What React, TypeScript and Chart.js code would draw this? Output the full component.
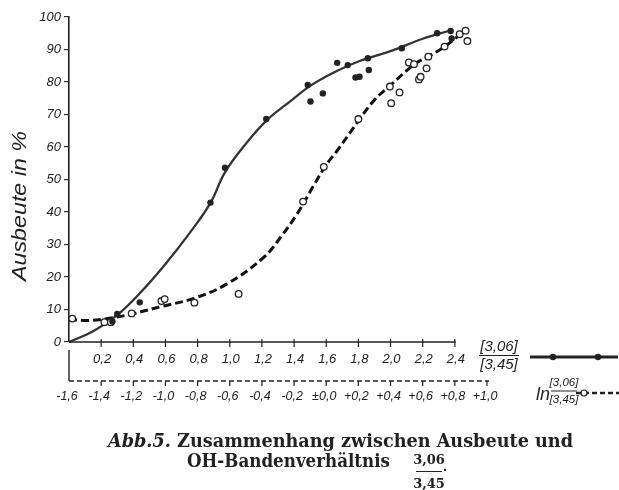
import React, { useEffect, useRef } from 'react';
import { Chart, registerables } from 'chart.js';

Chart.register(...registerables);

// ---- data (upper axis: ratio [3,06]/[3,45]; lower axis: ln of ratio) ----
const solidCurveX = [0, 0.15, 0.3, 0.45, 0.6, 0.75, 0.88, 0.97, 1.1, 1.23, 1.38, 1.5, 1.65, 1.8, 2.0, 2.2, 2.38];
const solidCurveY = [0, 3.3, 8.3, 15.5, 24, 33.5, 42.8, 52.2, 61, 68.2, 74.2, 78.8, 83, 86.3, 89.5, 93.3, 96];

const filledX = [0.27, 0.3, 0.44, 0.88, 0.97, 1.227, 1.485, 1.502, 1.579, 1.668, 1.734, 1.782, 1.807, 1.859, 1.865, 2.07, 2.29, 2.374, 2.38];
const filledY = [6.3, 8.6, 12.2, 42.9, 53.6, 68.6, 79.1, 74.0, 76.5, 85.9, 85.2, 81.4, 81.6, 87.3, 83.7, 90.4, 95.0, 95.7, 93.4];

const dashedCurveX = [-1.6, -1.48, -1.35, -1.21, -1.02, -0.825, -0.62, -0.39, -0.28, -0.18, -0.08, 0.0, 0.07, 0.2, 0.3, 0.4, 0.55, 0.64, 0.74, 0.83, 0.87];
const dashedCurveY = [7, 6.6, 7.3, 8.6, 11, 13.4, 17.8, 26, 32.5, 39.5, 48, 54.5, 59, 68, 74.5, 79, 85.5, 88, 91, 94.5, 96];

const openX = [-1.58, -1.38, -1.34, -1.21, -1.025, -1.005, -0.82, -0.545, -0.144, -0.015, 0.2, 0.396, 0.404, 0.456, 0.514, 0.546, 0.577, 0.587, 0.624, 0.635, 0.736, 0.83, 0.867, 0.878];
const openY = [7.2, 6.1, 6.1, 8.8, 12.6, 13.2, 12.1, 14.8, 43.2, 53.9, 68.6, 78.6, 73.5, 76.8, 86.0, 85.5, 80.8, 81.6, 84.2, 87.8, 90.9, 94.7, 95.8, 92.6];

const upperTickValues = [0.2, 0.4, 0.6, 0.8, 1.0, 1.2, 1.4, 1.6, 1.8, 2.0, 2.2, 2.4];
const upperTickLabels = ['0,2', '0,4', '0,6', '0,8', '1,0', '1,2', '1,4', '1,6', '1,8', '2,0', '2,2', '2,4'];
const lowerTickValues = [-1.6, -1.4, -1.2, -1.0, -0.8, -0.6, -0.4, -0.2, 0.0, 0.2, 0.4, 0.6, 0.8, 1.0];
const lowerTickLabels = ['-1,6', '-1,4', '-1,2', '-1,0', '-0,8', '-0,6', '-0,4', '-0,2', '±0,0', '+0,2', '+0,4', '+0,6', '+0,8', '+1,0'];

const yTitle = 'Ausbeute in %';
const legendNumerator = '[3,06]';
const legendDenominator = '[3,45]';
const captionPrefix = 'Abb.5.';
const captionLine1 = ' Zusammenhang zwischen Ausbeute und';
const captionLine2 = 'OH-Bandenverhältnis';
const captionNum = '3,06';
const captionDen = '3,45';

const zip = (xs: number[], ys: number[]) => xs.map((x, i) => ({ x, y: ys[i] }));

const INK = '#222';
const SANS_IT = (s: number) => `italic ${s}px "Liberation Sans", Arial, sans-serif`;

function fitText(ctx: CanvasRenderingContext2D, text: string, cx: number, cy: number, width: number) {
  const w = ctx.measureText(text).width;
  ctx.save();
  ctx.translate(cx, cy);
  ctx.scale(width / w, 1);
  ctx.textAlign = 'center';
  ctx.textBaseline = 'middle';
  ctx.fillText(text, 0, 0);
  ctx.restore();
}

function seg(ctx: CanvasRenderingContext2D, x1: number, y1: number, x2: number, y2: number) {
  ctx.beginPath();
  ctx.moveTo(x1, y1);
  ctx.lineTo(x2, y2);
  ctx.stroke();
}

const paperPlugin = {
  id: 'paper',
  beforeDraw(chart: any) {
    const c = chart.ctx;
    c.save();
    c.fillStyle = '#fff';
    c.fillRect(0, 0, chart.width, chart.height);
    c.restore();
  },
  afterDraw(chart: any) {
    const ctx: CanvasRenderingContext2D = chart.ctx;
    const xs = chart.scales.x;
    const x2 = chart.scales.x2;
    const ys = chart.scales.y;
    const y0 = ys.getPixelForValue(0);
    ctx.save();
    ctx.strokeStyle = INK;
    ctx.fillStyle = INK;

    // upper x axis
    ctx.lineWidth = 1.6;
    seg(ctx, xs.getPixelForValue(0), y0, xs.getPixelForValue(2.4) + 1, y0);
    ctx.lineWidth = 1.2;
    ctx.font = SANS_IT(13);
    ctx.textAlign = 'center';
    ctx.textBaseline = 'middle';
    upperTickValues.forEach((v, i) => {
      const px = xs.getPixelForValue(v);
      seg(ctx, px, y0 - 3, px, y0 + 5);
      ctx.fillText(upperTickLabels[i], px + 1, y0 + 17);
    });

    // lower (ln) axis
    const yl = y0 + 39;
    ctx.lineWidth = 1.4;
    const xl0 = x2.getPixelForValue(-1.6);
    seg(ctx, xl0, y0 + 8, xl0, yl);
    ctx.setLineDash([5, 3]);
    seg(ctx, xl0, yl, x2.getPixelForValue(1.0) + 2, yl);
    ctx.setLineDash([]);
    ctx.lineWidth = 1.2;
    ctx.font = SANS_IT(12.5);
    lowerTickValues.forEach((v, i) => {
      const px = x2.getPixelForValue(v);
      if (i > 0) seg(ctx, px, yl, px, yl + 5);
      ctx.fillText(lowerTickLabels[i], px - 2, yl + 16);
    });

    // y title
    ctx.font = SANS_IT(21);
    ctx.save();
    ctx.translate(20, 206);
    ctx.rotate(-Math.PI / 2);
    fitText(ctx, yTitle, 0, 0, 150);
    ctx.restore();

    // legend 1: ratio, solid with dots
    ctx.font = SANS_IT(15);
    ctx.textAlign = 'center';
    ctx.fillText(legendNumerator, 499, 347);
    ctx.fillText(legendDenominator, 499, 365);
    ctx.lineWidth = 1;
    seg(ctx, 479, 355.5, 519, 355.5);
    ctx.lineWidth = 3;
    seg(ctx, 530, 357, 618, 357);
    [553, 598].forEach((cx) => {
      ctx.beginPath();
      ctx.arc(cx, 357, 3.2, 0, Math.PI * 2);
      ctx.fill();
    });

    // legend 2: ln ratio, dashed with open circle
    ctx.font = SANS_IT(18);
    ctx.fillText('ln', 543, 395);
    ctx.font = SANS_IT(11.5);
    ctx.fillText(legendNumerator, 564, 383);
    ctx.fillText(legendDenominator, 564, 400);
    ctx.lineWidth = 1;
    seg(ctx, 551, 391, 577, 391);
    ctx.lineWidth = 2.6;
    ctx.setLineDash([5, 3]);
    seg(ctx, 576, 393, 619, 393);
    ctx.setLineDash([]);
    ctx.beginPath();
    ctx.arc(584, 393, 3, 0, Math.PI * 2);
    ctx.fillStyle = '#fff';
    ctx.fill();
    ctx.lineWidth = 1.2;
    ctx.stroke();
    ctx.fillStyle = INK;

    // caption
    const f1 = 'italic bold 18px "DejaVu Serif", "Liberation Serif", serif';
    const f2 = 'bold 18px "DejaVu Serif", "Liberation Serif", serif';
    ctx.font = f1;
    const w1 = ctx.measureText(captionPrefix).width;
    ctx.font = f2;
    const w2 = ctx.measureText(captionLine1).width;
    const s1 = 465 / (w1 + w2);
    ctx.save();
    ctx.translate(108, 442);
    ctx.scale(s1, 1);
    ctx.textAlign = 'left';
    ctx.textBaseline = 'middle';
    ctx.font = f1;
    ctx.fillText(captionPrefix, 0, 0);
    ctx.font = f2;
    ctx.fillText(captionLine1, w1, 0);
    ctx.restore();

    ctx.font = f2;
    const w3 = ctx.measureText(captionLine2).width;
    ctx.save();
    ctx.translate(187, 462);
    ctx.scale(203 / w3, 1);
    ctx.textAlign = 'left';
    ctx.textBaseline = 'middle';
    ctx.fillText(captionLine2, 0, 0);
    ctx.restore();
    ctx.font = 'bold 13px "DejaVu Serif", "Liberation Serif", serif';
    ctx.textAlign = 'center';
    ctx.textBaseline = 'middle';
    ctx.fillText(captionNum, 429, 461);
    ctx.fillText(captionDen, 429, 485);
    ctx.lineWidth = 1;
    seg(ctx, 416, 471.5, 442, 471.5);
    ctx.fillText('.', 445, 468);

    ctx.restore();
  },
};

export default function App() {
  const ref = useRef<HTMLCanvasElement | null>(null);
  useEffect(() => {
    if (!ref.current) return;
    const chart = new Chart(ref.current, {
      type: 'scatter',
      data: {
        datasets: [
          {
            data: zip(filledX, filledY),
            xAxisID: 'x',
            pointRadius: 3.2,
            pointBackgroundColor: INK,
            pointBorderColor: INK,
            pointBorderWidth: 0,
            showLine: false,
            clip: false,
          } as any,
          {
            data: zip(openX, openY),
            xAxisID: 'x2',
            pointRadius: 3.3,
            pointBackgroundColor: '#fff',
            pointBorderColor: INK,
            pointBorderWidth: 1.3,
            showLine: false,
            clip: false,
          } as any,
          {
            data: zip(solidCurveX, solidCurveY),
            xAxisID: 'x',
            showLine: true,
            borderColor: '#333',
            borderWidth: 2.3,
            pointRadius: 0,
            tension: 0.4,
            clip: false,
          } as any,
          {
            data: zip(dashedCurveX, dashedCurveY),
            xAxisID: 'x2',
            showLine: true,
            borderColor: '#111',
            borderWidth: 3,
            borderDash: [8, 4],
            pointRadius: 0,
            tension: 0.4,
            clip: false,
          } as any,
        ],
      },
      options: {
        responsive: false,
        animation: false,
        devicePixelRatio: 1,
        layout: { padding: { left: 0, top: 17, right: 132, bottom: 148 } },
        plugins: { legend: { display: false }, tooltip: { enabled: false } },
        scales: {
          x: { type: 'linear', min: 0, max: 2.6, display: false },
          x2: { type: 'linear', min: -1.6, max: 1.0, display: false, position: 'bottom' },
          y: {
            type: 'linear',
            min: 0,
            max: 100,
            afterFit: (s: any) => {
              s.width = 69;
            },
            ticks: {
              stepSize: 10,
              color: INK,
              padding: 3,
              font: { family: '"Liberation Sans", Arial, sans-serif', style: 'italic', size: 13 },
            },
            grid: { drawOnChartArea: false, drawTicks: true, tickLength: 5, color: '#333', lineWidth: 1.2 },
            border: { display: true, color: INK, width: 1.6 },
          },
        },
      } as any,
      plugins: [paperPlugin],
    });
    return () => chart.destroy();
  }, []);
  return (
    <div style={{ position: 'absolute', left: 0, top: 0, width: 619, height: 490, background: '#fff' }}>
      <canvas ref={ref} width={619} height={490} style={{ width: 619, height: 490, display: 'block' }} />
    </div>
  );
}
